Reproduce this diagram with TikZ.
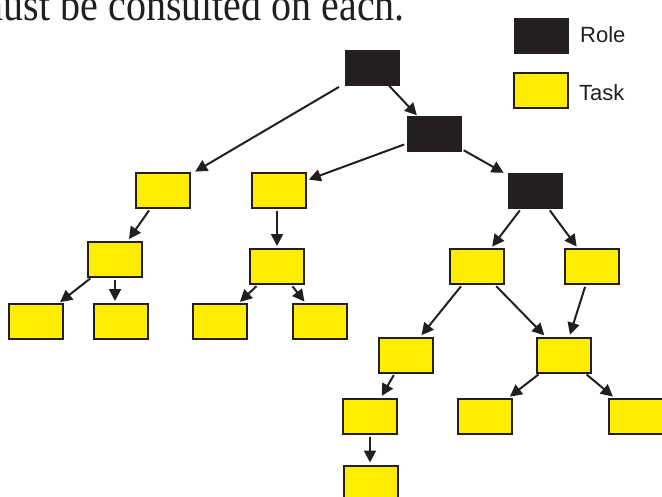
\documentclass[tikz,border=0pt]{standalone}
\usepackage{fontspec}
\setmainfont{Liberation Serif}
\newfontfamily\legendfont{Liberation Sans}
\usetikzlibrary{arrows.meta}
\definecolor{taskyellow}{HTML}{FFED00}
\definecolor{inkblack}{HTML}{231F20}
\tikzset{
  box/.style={rectangle, minimum width=54pt, minimum height=35pt, inner sep=0pt, outer sep=0pt},
  rolebox/.style={box, fill=inkblack, draw=inkblack, line width=0.5pt},
  taskbox/.style={box, fill=taskyellow, draw=inkblack, line width=2pt},
  arr/.style={draw=inkblack, line width=2pt, -{Triangle[length=12pt,width=12pt]}, shorten <=3pt, shorten >=3pt},
  legendtext/.style={font=\legendfont\fontsize{22}{24}\selectfont, text=inkblack, inner sep=0pt, anchor=base west}
}
\begin{document}
\begin{tikzpicture}[x=1pt,y=-1pt]
\useasboundingbox (0,0) rectangle (662,496);
\clip (0,0) rectangle (662,496);
% top text, partly cut off at the top edge as in the reference
\node[anchor=base east, inner sep=0pt, font=\fontsize{40}{44}\selectfont, text=inkblack] (caption) at (405,20) {\scalebox{1}[1.15]{must be consulted on each.}};
% legend
\node[rolebox] (legrole) at (541,35.5) {};
\node[taskbox] (legtask) at (540.5,90.5) {};
\node[legendtext] (roletxt) at (580,42.5) {Role};
\node[legendtext] (tasktxt) at (579,100.5) {Task};
% roles
\node[rolebox] (b1) at (372,67.5) {};
\node[rolebox] (b2) at (434,133.5) {};
\node[rolebox] (b3) at (535,190.5) {};
% tasks
\node[taskbox] (y1) at (163,190.5) {};
\node[taskbox] (y2) at (279,190.5) {};
\node[taskbox] (y3) at (115,259) {};
\node[taskbox] (y4) at (277,266.5) {};
\node[taskbox] (y5) at (35.5,321.5) {};
\node[taskbox] (y6) at (120.5,321.5) {};
\node[taskbox] (y7) at (219.5,321.5) {};
\node[taskbox] (y8) at (320,321.5) {};
\node[taskbox] (y9) at (477,266.5) {};
\node[taskbox] (y10) at (591.5,266.5) {};
\node[taskbox] (y11) at (405.5,355) {};
\node[taskbox] (y12) at (563.5,355) {};
\node[taskbox] (y13) at (370,416) {};
\node[taskbox] (y14) at (485,416) {};
\node[taskbox] (y15) at (636,416) {};
\node[taskbox] (y16) at (371,483) {};
% connectors
\draw[arr, shorten <=1pt, shorten >=1pt] (b1) -- (b2);
\draw[arr, shorten <=7pt, shorten >=6pt] (b1) -- (y1);
\draw[arr] (b2) -- (y2);
\draw[arr, shorten >=5pt] (b2) -- (b3);
\draw[arr] (y1) -- (y3);
\draw[arr] (y2.south -| y4) -- (y4.north);
\draw[arr] (y3) -- (y5);
\draw[arr] (y3.south) -- (y3.south |- y6.north);
\draw[arr] (y4) -- (y7);
\draw[arr] (y4) -- (y8);
\draw[arr] (b3) -- (y9);
\draw[arr] (b3) -- (y10);
\draw[arr] (y9) -- (y11);
\draw[arr] (y9) -- (y12);
\draw[arr] (y10) -- (y12);
\draw[arr] (y11) -- (y13);
\draw[arr] (y12) -- (y14);
\draw[arr] (y12) -- (y15);
\draw[arr] (y13.south) -- (y13.south |- y16.north);
\end{tikzpicture}
\end{document}
